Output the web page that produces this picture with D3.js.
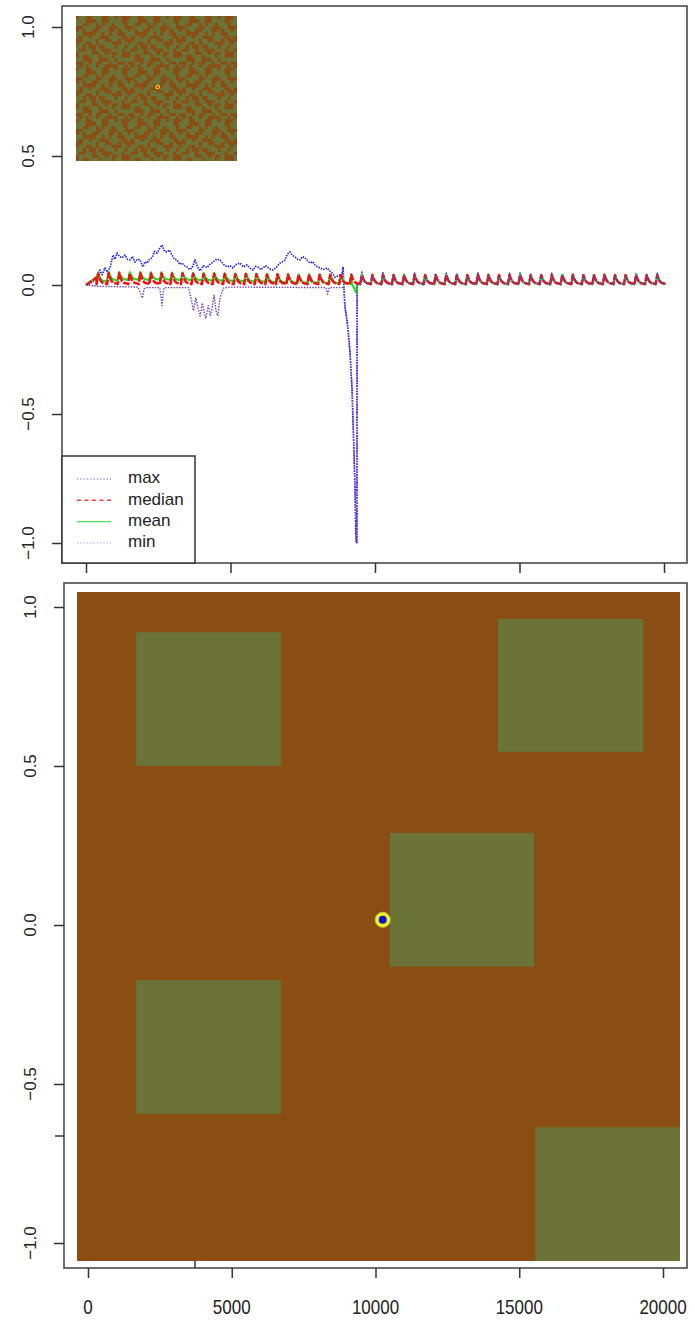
<!DOCTYPE html>
<html>
<head>
<meta charset="utf-8">
<script src="https://cdn.jsdelivr.net/npm/d3@7"></script>
<style>
  html, body { margin: 0; padding: 0; background: #fff; }
  svg { display: block; font-family: "Liberation Sans", Arial, Helvetica, sans-serif; }
</style>
</head>
<body>
<svg id="chart" width="695" height="1321"></svg>
<script>
// ===================================
// Data
// ===================================

const xTicks = [0, 5000, 10000, 15000, 20000];
const yTicks = [-1, -0.5, 0, 0.5, 1];
const legendNames = ['max', 'median', 'mean', 'min'];
const drawOrder = ['max', 'mean', 'median', 'min'];

// yearly pulses (day of each cycle start)
const cycleStarts = [365, 730, 1095, 1460, 1825, 2190, 2555, 2920, 3285, 3650, 4015, 4380,
  4745, 5110, 5475, 5840, 6205, 6570, 6935, 7300, 7665, 8030, 8395, 8760, 9125, 9490, 9855,
  10220, 10585, 10950, 11315, 11680, 12045, 12410, 12775, 13140, 13505, 13870, 14235, 14600,
  14965, 15330, 15695, 16060, 16425, 16790, 17155, 17520, 17885, 18250, 18615, 18980, 19345, 19710];

// shape of one pulse: [days after start, share of the peak height]
const pulseShape = [[0, 0], [55, 1], [95, 0.62], [145, 0.32], [215, 0.13], [360, 0.03]];

const medianPeak = [0.044, 0.046, 0.046, 0.045, 0.046, 0.045, 0.045, 0.044, 0.045, 0.044, 0.043, 0.044,
  0.043, 0.042, 0.043, 0.042, 0.041, 0.042, 0.041, 0.040, 0.041, 0.040, 0.040, 0.039, 0.040, 0.039, 0.038,
  0.039, 0.038, 0.038, 0.039, 0.038, 0.038, 0.039, 0.038, 0.038, 0.039, 0.038, 0.038, 0.038, 0.039, 0.038,
  0.038, 0.038, 0.039, 0.038, 0.038, 0.038, 0.039, 0.038, 0.038, 0.038, 0.038, 0.038];
const medianFloor = 0.003;

const meanPeak = [0.046, 0.05, 0.05, 0.049, 0.05, 0.049, 0.049, 0.048, 0.048, 0.047, 0.046, 0.046,
  0.045, 0.044, 0.044, 0.043, 0.042, 0.042, 0.041, 0.040, 0.041, 0.040, 0.040, 0.039, 0.040, 0.039, 0.038,
  0.039, 0.038, 0.038, 0.039, 0.038, 0.038, 0.039, 0.038, 0.038, 0.039, 0.038, 0.038, 0.038, 0.039, 0.038,
  0.038, 0.038, 0.039, 0.038, 0.038, 0.038, 0.039, 0.038, 0.038, 0.038, 0.038, 0.038];
const meanFloor = [0.012, 0.017, 0.019, 0.02, 0.019, 0.02, 0.019, 0.018, 0.018, 0.017, 0.016, 0.015,
  0.014, 0.013, 0.012, 0.011, 0.009, 0.008, 0.007, 0.006, 0.006, 0.005, 0.005, 0.004, 0.004, 0.003, 0.003,
  0.003, 0.003, 0.003, 0.003, 0.003, 0.003, 0.003, 0.003, 0.003, 0.003, 0.003, 0.003, 0.003, 0.003, 0.003,
  0.003, 0.003, 0.003, 0.003, 0.003, 0.003, 0.003, 0.003, 0.003, 0.003, 0.003, 0.003];
const meanDip = [[9200, 0.004], [9360, -0.03], [9385, 0.004]];

// after the collapse every series runs on the same pulses
const latePeak = [null, null, null, null, null, null, null, null, null, null, null, null, null, null,
  null, null, null, null, null, null, null, null, null, null, null, 0.05, 0.041, 0.047, 0.040, 0.041,
  0.046, 0.040, 0.041, 0.045, 0.041, 0.040, 0.046, 0.041, 0.040, 0.045, 0.046, 0.041, 0.040, 0.045,
  0.041, 0.046, 0.040, 0.041, 0.045, 0.040, 0.041, 0.046, 0.040, 0.045];
const lateMinPeak = [null, null, null, null, null, null, null, null, null, null, null, null, null, null,
  null, null, null, null, null, null, null, null, null, null, null, 0.036, 0.036, 0.036, 0.036, 0.036,
  0.036, 0.036, 0.036, 0.036, 0.036, 0.036, 0.036, 0.036, 0.036, 0.036, 0.036, 0.036, 0.036, 0.036,
  0.036, 0.036, 0.036, 0.036, 0.036, 0.036, 0.036, 0.036, 0.036, 0.036];

const maxEarly = [[0, 0], [140, 0.005], [310, 0.02], [480, 0.058], [560, 0.04], [657, 0.066],
  [740, 0.05], [830, 0.067], [934, 0.116], [1000, 0.1], [1073, 0.124], [1160, 0.11], [1246, 0.105],
  [1349, 0.116], [1430, 0.1], [1522, 0.097], [1610, 0.11], [1695, 0.089], [1780, 0.1], [1868, 0.097],
  [1972, 0.07], [2040, 0.09], [2111, 0.085], [2200, 0.1], [2284, 0.105], [2370, 0.13], [2457, 0.124],
  [2540, 0.14], [2630, 0.155], [2720, 0.13], [2803, 0.128], [2890, 0.135], [2976, 0.116], [3060, 0.1],
  [3149, 0.097], [3240, 0.08], [3322, 0.085], [3410, 0.075], [3495, 0.07], [3580, 0.06], [3668, 0.066],
  [3771, 0.097], [3860, 0.07], [3944, 0.055], [4060, 0.075], [4187, 0.067], [4290, 0.08], [4394, 0.089],
  [4520, 0.1], [4636, 0.097], [4760, 0.08], [4879, 0.07], [4980, 0.075], [5086, 0.066], [5200, 0.08],
  [5328, 0.085], [5450, 0.07], [5571, 0.078], [5680, 0.065], [5778, 0.058], [5860, 0.072], [5951, 0.07],
  [6040, 0.06], [6124, 0.066], [6210, 0.075], [6297, 0.067], [6390, 0.06], [6470, 0.058], [6590, 0.07],
  [6712, 0.085], [6800, 0.09], [6885, 0.097], [6970, 0.12], [7058, 0.128], [7140, 0.115], [7231, 0.109],
  [7320, 0.1], [7404, 0.097], [7490, 0.11], [7577, 0.105], [7660, 0.095], [7750, 0.085], [7840, 0.09],
  [7923, 0.078], [8010, 0.07], [8096, 0.066], [8220, 0.06], [8339, 0.066], [8430, 0.055], [8512, 0.047],
  [8615, 0.03], [8700, 0.035], [8788, 0.039], [8850, 0.03], [8892, 0.07], [8910, 0.03]];

const minEarly = [[0, 0], [400, -0.005], [1800, -0.008], [1880, -0.03], [1950, -0.05], [2010, -0.015],
  [2100, -0.01], [2550, -0.01], [2600, -0.05], [2630, -0.08], [2680, -0.02], [2720, -0.01], [3550, -0.01],
  [3650, -0.06], [3720, -0.1], [3800, -0.05], [3880, -0.09], [3950, -0.12], [4020, -0.07], [4100, -0.11],
  [4150, -0.13], [4230, -0.08], [4300, -0.12], [4360, -0.09], [4430, -0.04], [4500, -0.1], [4560, -0.12],
  [4640, -0.05], [4750, -0.012], [5000, -0.008], [8300, -0.01], [8360, -0.035], [8420, -0.01], [8910, -0.01]];

// the collapse shared by max and min
const plunge = [[8930, -0.02], [8960, -0.085], [9030, -0.136], [9065, -0.17], [9134, -0.26],
  [9204, -0.40], [9238, -0.52], [9273, -0.65], [9307, -0.78], [9342, -0.99], [9375, -1.0],
  [9380, 0.0], [9470, 0.003]];

// landscape: patches as shares of the landscape width / height
const patchX0 = [0.098, 0.698, 0.519, 0.098, 0.760];
const patchX1 = [0.338, 0.939, 0.758, 0.338, 1.0];
const patchY0 = [0.060, 0.040, 0.360, 0.580, 0.800];
const patchY1 = [0.260, 0.239, 0.560, 0.780, 1.0];
const agentX = [0.507];
const agentY = [0.49];

// inset texture tile (1 = habitat cell)
const insetTile = [
  '0110011100110100', '1110001100111100', '1100110101101110', '0011110011000110',
  '0101100111001011', '1100001101011001', '1011011000111100', '0011110110011010',
  '0110010111100011', '1101001001110110', '1001101100011101', '0111100110100100',
  '0100111011101100', '1100011000110111', '0011010011011001', '1010110110000110',
];

// ===================================
// Layout
// ===================================

const BROWN = '#8b4e12';
const GREEN = '#6b7339';
const topBox = { left: 62, top: 6, right: 687, bottom: 563 };
const botBox = { left: 64, top: 583, right: 687, bottom: 1268 };

const svg = d3.select('#chart');

const x = d3.scaleLinear().domain([0, 20000]).range([86, 664]);
const y = d3.scaleLinear().domain([-1, 1]).range([543, 27]);
const xB = d3.scaleLinear().domain([0, 20000]).range([88, 663]);
const yB = d3.scaleLinear().domain([-1, 1]).range([1243, 607]);

// landscape scales (bottom panel and inset)
const lx = d3.scaleLinear().domain([0, 1]).range([77, 680]);
const ly = d3.scaleLinear().domain([0, 1]).range([592, 1261]);
const ix = d3.scaleLinear().domain([0, 1]).range([76, 237]);
const iy = d3.scaleLinear().domain([0, 1]).range([16, 161]);

function pulses(peaks, floors) {
  const pts = [];
  cycleStarts.forEach((start, i) => {
    if (peaks[i] == null) return;
    const floor = Array.isArray(floors) ? floors[i] : floors;
    pulseShape.forEach(([dt, f]) => pts.push([start + dt, floor + (peaks[i] - floor) * f]));
  });
  return pts;
}

const seriesMedian = [[0, 0], [360, 0.028]].concat(pulses(medianPeak, medianFloor));
const seriesMean = [[0, 0], [360, 0.03]]
  .concat(pulses(meanPeak, meanFloor).filter((d) => d[0] < 9200 || d[0] > 9385), meanDip)
  .sort((a, b) => a[0] - b[0]);
const seriesMax = maxEarly.concat(plunge, pulses(latePeak, 0.003));
const seriesMin = minEarly.concat(plunge, pulses(lateMinPeak, 0.002));

const lineStyles = {
  max: { data: seriesMax, color: '#1a1aee', width: 1.7, dash: '1.4,1.2' },
  median: { data: seriesMedian, color: '#f01212', width: 2.5, dash: '7,1.5' },
  mean: { data: seriesMean, color: '#22dd22', width: 2.2, dash: null },
  min: { data: seriesMin, color: '#6a3cc8', width: 1.4, dash: '1.4,1.4' },
};

// ===================================
// Top panel
// ===================================

const topG = svg.append('g');

// inset landscape
const defs = svg.append('defs');
const cell = (ix(1) - ix(0)) / 50;
const tileW = cell * insetTile[0].length;
const tileH = cell * insetTile.length;
const pattern = defs.append('pattern')
  .attr('id', 'inset-tex')
  .attr('patternUnits', 'userSpaceOnUse')
  .attr('x', ix(0)).attr('y', iy(0))
  .attr('width', tileW)
  .attr('height', tileH);
pattern.append('rect')
  .attr('width', tileW)
  .attr('height', tileH)
  .attr('fill', BROWN);
insetTile.forEach((row, r) => {
  row.split('').forEach((c, k) => {
    if (c === '1') {
      pattern.append('rect')
        .attr('x', k * cell).attr('y', r * cell)
        .attr('width', cell).attr('height', cell)
        .attr('shape-rendering', 'crispEdges')
        .attr('fill', GREEN);
    }
  });
});
topG.append('rect')
  .attr('x', ix(0)).attr('y', iy(0))
  .attr('width', ix(1) - ix(0)).attr('height', iy(1) - iy(0))
  .attr('shape-rendering', 'crispEdges')
  .attr('fill', 'url(#inset-tex)');
topG.selectAll('.inset-agent')
  .data(agentX)
  .join('circle')
  .attr('cx', (d) => ix(d))
  .attr('cy', (d, i) => iy(agentY[i]))
  .attr('r', 1.8)
  .attr('fill', '#e03010')
  .attr('stroke', '#f0f020')
  .attr('stroke-width', 1);

// series
const line = d3.line().x((d) => x(d[0])).y((d) => y(d[1]));
drawOrder.forEach((name) => {
  const s = lineStyles[name];
  topG.append('path')
    .datum(s.data)
    .attr('d', line)
    .attr('fill', 'none')
    .attr('stroke', s.color)
    .attr('stroke-width', s.width)
    .attr('stroke-dasharray', s.dash)
    .attr('stroke-linejoin', 'round');
});

// box + axes
topG.append('rect')
  .attr('x', topBox.left).attr('y', topBox.top)
  .attr('width', topBox.right - topBox.left).attr('height', topBox.bottom - topBox.top)
  .attr('fill', 'none').attr('stroke', '#4a4a4a').attr('stroke-width', 1.6);

const topYAxis = topG.append('g')
  .attr('transform', `translate(${topBox.left},0)`)
  .call(d3.axisLeft(y).tickValues(yTicks).tickSize(10).tickFormat(''));
topYAxis.select('.domain').remove();
topYAxis.selectAll('line').attr('stroke', '#333').attr('stroke-width', 1.5);

const topXAxis = topG.append('g')
  .attr('transform', `translate(0,${topBox.bottom})`)
  .call(d3.axisBottom(x).tickValues(xTicks).tickSize(10).tickFormat(''));
topXAxis.select('.domain').remove();
topXAxis.selectAll('line').attr('stroke', '#333').attr('stroke-width', 1.5);

topG.selectAll('.ylab')
  .data(yTicks)
  .join('text')
  .attr('transform', (d) => `translate(30,${y(d)}) rotate(-90)`)
  .attr('text-anchor', 'middle')
  .attr('dominant-baseline', 'middle')
  .attr('font-size', 17)
  .attr('fill', '#222')
  .text((d) => d3.format('.1f')(d));

// legend
const legend = topG.append('g');
legend.append('rect')
  .attr('x', 62).attr('y', 456)
  .attr('width', 133).attr('height', 107)
  .attr('fill', '#fff').attr('stroke', '#333').attr('stroke-width', 1.5);
legendNames.forEach((name, i) => {
  const s = lineStyles[name];
  const ly0 = 479 + i * 21.3;
  legend.append('line')
    .attr('x1', 77).attr('x2', 111)
    .attr('y1', ly0).attr('y2', ly0)
    .attr('stroke', s.color)
    .attr('stroke-opacity', name === 'max' || name === 'min' ? 0.45 : 0.8)
    .attr('stroke-width', name === 'median' ? 1.4 : 1.3)
    .attr('stroke-dasharray', name === 'median' ? '4,3.5' : name === 'mean' ? null : '1.3,2');
  legend.append('text')
    .attr('x', 128).attr('y', ly0)
    .attr('dominant-baseline', 'middle')
    .attr('font-size', 17)
    .attr('fill', '#222')
    .text(name);
});

// ===================================
// Bottom panel
// ===================================

const botG = svg.append('g');

botG.append('rect')
  .attr('x', lx(0)).attr('y', ly(0))
  .attr('width', lx(1) - lx(0)).attr('height', ly(1) - ly(0))
  .attr('fill', BROWN);

botG.selectAll('.patch')
  .data(patchX0)
  .join('rect')
  .attr('x', (d) => lx(d))
  .attr('y', (d, i) => ly(patchY0[i]))
  .attr('width', (d, i) => lx(patchX1[i]) - lx(d))
  .attr('height', (d, i) => ly(patchY1[i]) - ly(patchY0[i]))
  .attr('fill', GREEN);

botG.selectAll('.agent-ring')
  .data(agentX)
  .join('circle')
  .attr('cx', (d) => lx(d))
  .attr('cy', (d, i) => ly(agentY[i]))
  .attr('r', 7.5)
  .attr('fill', '#eef22a')
  .attr('stroke', '#c6cf30')
  .attr('stroke-width', 1);
botG.selectAll('.agent-dot')
  .data(agentX)
  .join('circle')
  .attr('cx', (d) => lx(d))
  .attr('cy', (d, i) => ly(agentY[i]))
  .attr('r', 4)
  .attr('fill', '#1414c8');

botG.append('rect')
  .attr('x', botBox.left).attr('y', botBox.top)
  .attr('width', botBox.right - botBox.left).attr('height', botBox.bottom - botBox.top)
  .attr('fill', 'none').attr('stroke', '#4a4a4a').attr('stroke-width', 1.6);

const botYAxis = botG.append('g')
  .attr('transform', `translate(${botBox.left},0)`)
  .call(d3.axisLeft(yB).tickValues(yTicks).tickSize(10).tickFormat(''));
botYAxis.select('.domain').remove();
botYAxis.selectAll('line').attr('stroke', '#333').attr('stroke-width', 1.5);

const botXAxis = botG.append('g')
  .attr('transform', `translate(0,${botBox.bottom})`)
  .call(d3.axisBottom(xB).tickValues(xTicks).tickSize(10).tickFormat(''));
botXAxis.select('.domain').remove();
botXAxis.selectAll('line').attr('stroke', '#333').attr('stroke-width', 1.5);

// stray tick marks left over from an overlaid plot
botG.append('line')
  .attr('x1', 55).attr('x2', botBox.left).attr('y1', 1136).attr('y2', 1136)
  .attr('stroke', '#333').attr('stroke-width', 1.5);
botG.append('line')
  .attr('x1', 195).attr('x2', 195).attr('y1', 1261).attr('y2', botBox.bottom)
  .attr('stroke', '#333').attr('stroke-width', 1.5);

botG.selectAll('.ylab')
  .data(yTicks)
  .join('text')
  .attr('transform', (d) => `translate(32,${yB(d)}) rotate(-90)`)
  .attr('text-anchor', 'middle')
  .attr('dominant-baseline', 'middle')
  .attr('font-size', 17)
  .attr('fill', '#222')
  .text((d) => d3.format('.1f')(d));

botG.selectAll('.xlab')
  .data(xTicks)
  .join('text')
  .attr('transform', (d) => `translate(${xB(d)},1309) scale(1,1.2)`)
  .attr('text-anchor', 'middle')
  .attr('dominant-baseline', 'middle')
  .attr('font-size', 17)
  .attr('fill', '#222')
  .text((d) => d);
</script>
</body>
</html>
